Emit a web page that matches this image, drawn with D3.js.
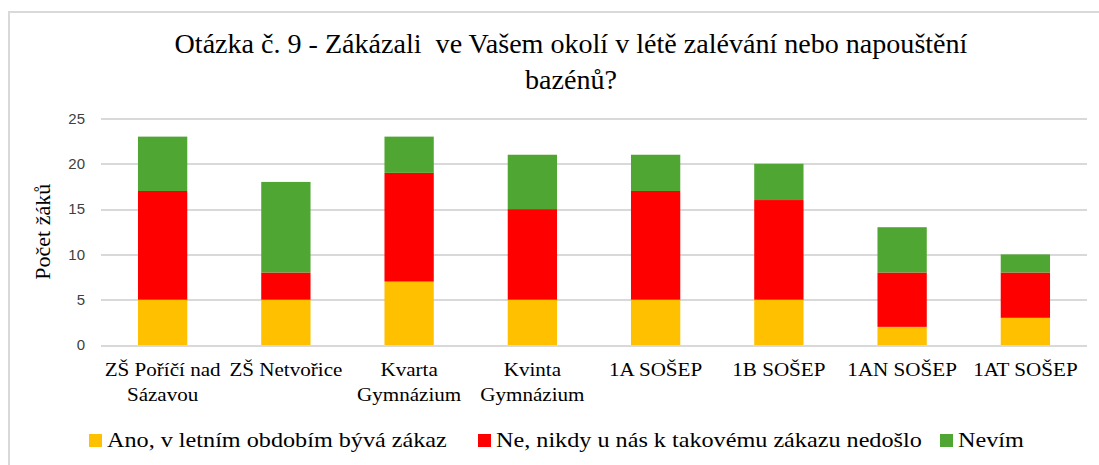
<!DOCTYPE html>
<html>
<head>
<meta charset="utf-8">
<script src="https://cdn.jsdelivr.net/npm/d3@7"></script>
<style>
  body { margin: 0; background: #fff; }
  svg { display: block; }
</style>
</head>
<body>
<svg id="chart" width="1099" height="465"></svg>
<script>
var categories = [
  ["ZŠ Poříčí nad", "Sázavou"],
  ["ZŠ Netvořice"],
  ["Kvarta", "Gymnázium"],
  ["Kvinta", "Gymnázium"],
  ["1A SOŠEP"],
  ["1B SOŠEP"],
  ["1AN SOŠEP"],
  ["1AT SOŠEP"]
];
var seriesNames = ["Ano, v letním obdobím bývá zákaz", "Ne, nikdy u nás k takovému zákazu nedošlo", "Nevím"];
var ano   = [5, 5, 7, 5, 5, 5, 2, 3];
var ne    = [12, 3, 12, 10, 12, 11, 6, 5];
var nevim = [6, 10, 4, 6, 4, 4, 5, 2];
var yTicks = [0, 5, 10, 15, 20, 25];
var titleLines = ["Otázka č. 9 - Zákázali  ve Vašem okolí v létě zalévání nebo napouštění", "bazénů?"];
var colors = ["#FFC000", "#FF0000", "#50A632"];

var SERIF = "'Liberation Serif', 'Times New Roman', serif",
    SANS = "'Liberation Sans', Arial, sans-serif";

var svg = d3.select("#chart"),
    margin = {top: 118.5, right: 12, bottom: 120, left: 101},
    width = +svg.attr("width") - margin.left - margin.right,
    height = +svg.attr("height") - margin.top - margin.bottom;

// outer frame, only top and left edges are in the picture
svg.append("path")
    .attr("d", "M9,470 V12 H1110")
    .attr("fill", "none")
    .attr("stroke", "#d9d9d9")
    .attr("stroke-width", 2);

// the source text is a bit stretched sideways
svg.append("g")
    .attr("transform", "translate(571,0) scale(1.04,1)")
    .append("text")
    .style("font-family", SERIF)
    .attr("text-anchor", "middle")
    .attr("font-size", 27)
    .attr("fill", "#000")
    .selectAll("tspan")
    .data(titleLines)
    .enter().append("tspan")
    .attr("x", 0)
    .attr("y", function(d, i) { return 53 + i * 36; })
    .attr("xml:space", "preserve")
    .text(function(d) { return d; });

var data = categories.map(function(c, i) {
  return {i: i, ano: ano[i], ne: ne[i], nevim: nevim[i]};
});
var layers = d3.stack().keys(["ano", "ne", "nevim"])(data);

var x = d3.scaleBand()
    .domain(d3.range(categories.length))
    .range([0, width])
    .paddingInner(0.6)
    .paddingOuter(0.3);

var y = d3.scaleLinear()
    .domain([0, 25])
    .range([height, 0]);

var g = svg.append("g").attr("transform", "translate(" + margin.left + "," + margin.top + ")");

g.append("g")
    .selectAll("line")
    .data(yTicks)
    .enter().append("line")
    .attr("x1", 0)
    .attr("x2", width)
    .attr("y1", function(d) { return Math.round(y(d)) + 0.5; })
    .attr("y2", function(d) { return Math.round(y(d)) + 0.5; })
    .attr("stroke", "#d9d9d9")
    .attr("stroke-width", 2);

var yAxis = g.append("g")
    .call(d3.axisLeft(y).tickValues(yTicks).tickSize(0).tickPadding(16));
yAxis.select(".domain").remove();
yAxis.selectAll("text")
    .style("font-family", SANS)
    .attr("font-size", 15)
    .attr("fill", "#404040");

g.append("g")
    .selectAll("g")
    .data(layers)
    .enter().append("g")
    .attr("fill", function(d, i) { return colors[i]; })
    .selectAll("rect")
    .data(function(d) { return d; })
    .enter().append("rect")
    .attr("x", function(d) { return x(d.data.i); })
    .attr("y", function(d) { return y(d[1]); })
    .attr("width", x.bandwidth())
    .attr("height", function(d) { return y(d[0]) - y(d[1]); });

var labels = g.append("g")
    .selectAll("text")
    .data(categories)
    .enter().append("text")
    .style("font-family", SERIF)
    .attr("text-anchor", "middle")
    .attr("font-size", 18.5)
    .attr("fill", "#000")
    .attr("transform", function(d, i) {
      return "translate(" + (x(i) + x.bandwidth() / 2) + "," + (height + 31) + ") scale(1.14,1)";
    });
labels.selectAll("tspan")
    .data(function(d) { return d; })
    .enter().append("tspan")
    .attr("x", 0)
    .attr("y", function(d, i) { return i * 25.5; })
    .text(function(d) { return d; });

svg.append("text")
    .style("font-family", SERIF)
    .attr("transform", "translate(50," + (margin.top + height / 2) + ") rotate(-90) scale(1.1,1)")
    .attr("text-anchor", "middle")
    .attr("font-size", 20)
    .attr("fill", "#000")
    .text("Počet žáků");

var legendX = [89, 478, 940];
var legend = svg.append("g")
    .selectAll("g")
    .data(seriesNames)
    .enter().append("g")
    .attr("transform", function(d, i) { return "translate(" + legendX[i] + ",434)"; });
legend.append("rect")
    .attr("width", 13)
    .attr("height", 13)
    .attr("fill", function(d, i) { return colors[i]; });
legend.append("text")
    .style("font-family", SERIF)
    .attr("transform", "translate(18,13) scale(1.1,1)")
    .attr("font-size", 22)
    .attr("fill", "#000")
    .text(function(d) { return d; });
</script>
</body>
</html>
